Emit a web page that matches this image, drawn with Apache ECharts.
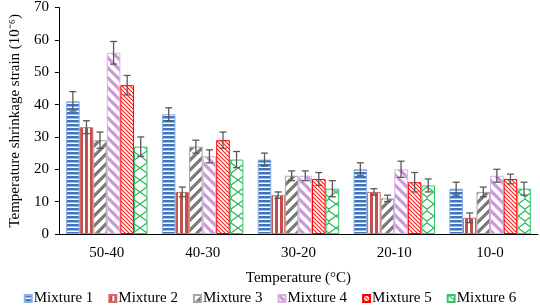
<!DOCTYPE html>
<html>
<head>
<meta charset="utf-8">
<script src="https://cdn.jsdelivr.net/npm/echarts@6/dist/echarts.min.js"></script>
<style>
  html, body { margin: 0; padding: 0; background: #fff; }
  #chart { width: 540px; height: 308px; }
</style>
</head>
<body>
<div id="chart"></div>
<script>
var categories = ['50-40', '40-30', '30-20', '20-10', '10-0'];
var seriesNames = ['Mixture 1', 'Mixture 2', 'Mixture 3', 'Mixture 4', 'Mixture 5', 'Mixture 6'];
var mix1 = [41, 37, 23, 20, 14];
var mix2 = [33, 13, 12, 13, 5];
var mix3 = [29, 27, 18, 11, 13];
var mix4 = [56, 24, 18, 20, 18];
var mix5 = [46, 29, 17, 16, 17];
var mix6 = [27, 23, 14, 15, 14];
var err1 = [3, 2, 2, 2, 2];
var err2 = [2, 1.5, 1, 1, 1.5];
var err3 = [2.5, 2, 1.5, 1, 1.5];
var err4 = [3.5, 2, 1.5, 2.5, 2];
var err5 = [3, 2.5, 2, 3, 1.5];
var err6 = [3, 2.5, 2.5, 2, 2];

var values = [mix1, mix2, mix3, mix4, mix5, mix6];
var errors = [err1, err2, err3, err4, err5, err6];

// fill patterns
function tile(w, h, draw) {
    var c = document.createElement('canvas');
    c.width = w; c.height = h;
    var ctx = c.getContext('2d');
    ctx.fillStyle = '#fff';
    ctx.fillRect(0, 0, w, h);
    draw(ctx, w, h);
    return { image: c, repeat: 'repeat' };
}
function diag(color, s, lw, back) {
    return tile(s, s, function (ctx) {
        ctx.strokeStyle = color;
        ctx.lineWidth = lw;
        ctx.beginPath();
        if (back) {
            ctx.moveTo(0, 0); ctx.lineTo(s, s);
            ctx.moveTo(-s / 2, s / 2); ctx.lineTo(s / 2, s * 1.5);
            ctx.moveTo(s / 2, -s / 2); ctx.lineTo(s * 1.5, s / 2);
        } else {
            ctx.moveTo(0, s); ctx.lineTo(s, 0);
            ctx.moveTo(-s / 2, s / 2); ctx.lineTo(s / 2, -s / 2);
            ctx.moveTo(s / 2, s * 1.5); ctx.lineTo(s * 1.5, s / 2);
        }
        ctx.stroke();
    });
}
var fills = [
    tile(4, 4, function (ctx) { ctx.fillStyle = '#3F74C0'; ctx.fillRect(0, 0, 4, 2.5); }),
    tile(5, 5, function (ctx) { ctx.fillStyle = '#C0504D'; ctx.fillRect(0, 0, 3, 5); }),
    diag('#7A7A7A', 10, 3.2, false),
    diag('#C99AD6', 10, 3.2, true),
    diag('#FF1A1A', 4, 1.1, true),
    tile(14, 12, function (ctx) {
        ctx.strokeStyle = '#2DB85C';
        ctx.lineWidth = 1.3;
        ctx.beginPath();
        ctx.moveTo(0, 0); ctx.lineTo(7, 5); ctx.lineTo(7, 7); ctx.lineTo(0, 12);
        ctx.moveTo(14, 0); ctx.lineTo(7, 5);
        ctx.moveTo(7, 7); ctx.lineTo(14, 12);
        ctx.stroke();
    })
];
var borders = ['#8DB0E0', '#D46A66', '#A6A6A6', '#D7B0E0', '#FF0000', '#33C66A'];

var chart = echarts.init(document.getElementById('chart'));
var font = '"Liberation Serif", "Times New Roman", serif';
var gapRatio = 0.15;

var series = [];
seriesNames.forEach(function (name, i) {
    series.push({
        name: name,
        type: 'bar',
        data: values[i],
        barGap: '0%',
        barCategoryGap: '15%',
        itemStyle: { color: fills[i], borderColor: borders[i], borderWidth: 1 },
        animation: false
    });
});

var errData = [];
values.forEach(function (arr, i) {
    arr.forEach(function (v, j) {
        errData.push([j, v, errors[i][j], i]);
    });
});
series.push({
    name: 'err',
    type: 'custom',
    data: errData,
    encode: { x: 0, y: 1 },
    z: 10,
    silent: true,
    animation: false,
    renderItem: function (params, api) {
        var cat = api.value(0), v = api.value(1), e = api.value(2), idx = api.value(3);
        var band = api.size([1, 0])[0];
        var bw = band * (1 - gapRatio) / 6;
        var c = api.coord([cat, v]);
        var x = c[0] - band * (1 - gapRatio) / 2 + (idx + 0.5) * bw;
        var top = api.coord([cat, v + e])[1];
        var bot = api.coord([cat, v - e])[1];
        var cap = 3.5;
        var st = { stroke: '#595959', lineWidth: 1.3 };
        return {
            type: 'group',
            children: [
                { type: 'line', shape: { x1: x, y1: top, x2: x, y2: bot }, style: st },
                { type: 'line', shape: { x1: x - cap, y1: top, x2: x + cap, y2: top }, style: st },
                { type: 'line', shape: { x1: x - cap, y1: bot, x2: x + cap, y2: bot }, style: st }
            ]
        };
    }
});

var option = {
    animation: false,
    textStyle: { fontFamily: font },
    grid: { left: 48, right: 2, top: 5, bottom: 74 },
    legend: {
        data: seriesNames,
        bottom: 2,
        left: 'center',
        padding: 0,
        icon: 'rect',
        itemWidth: 7,
        itemHeight: 7,
        itemGap: 15,
        textStyle: { fontFamily: font, fontSize: 15, color: '#000', padding: [0, 0, 0, -3] }
    },
    xAxis: {
        type: 'category',
        data: categories,
        name: 'Temperature (\u00B0C)',
        nameLocation: 'middle',
        nameGap: 37,
        nameTextStyle: { fontFamily: font, fontSize: 15, color: '#000' },
        axisLine: { lineStyle: { color: '#000', width: 1 } },
        axisTick: { inside: true, length: 4, lineStyle: { color: '#000' } },
        axisLabel: { fontFamily: font, fontSize: 15, color: '#000', margin: 12 }
    },
    yAxis: {
        type: 'value',
        min: 0,
        max: 70,
        interval: 10,
        name: 'Temperature shrinkage strain (10\u207B\u2076)',
        nameLocation: 'middle',
        nameGap: 33,
        nameTextStyle: { fontFamily: font, fontSize: 15, color: '#000' },
        axisLine: { show: true, lineStyle: { color: '#000', width: 1 } },
        axisTick: { show: true, length: 4, lineStyle: { color: '#000' } },
        axisLabel: { fontFamily: font, fontSize: 15, color: '#000', margin: 10 },
        splitLine: { show: false }
    },
    series: series
};
chart.setOption(option);
</script>
</body>
</html>
